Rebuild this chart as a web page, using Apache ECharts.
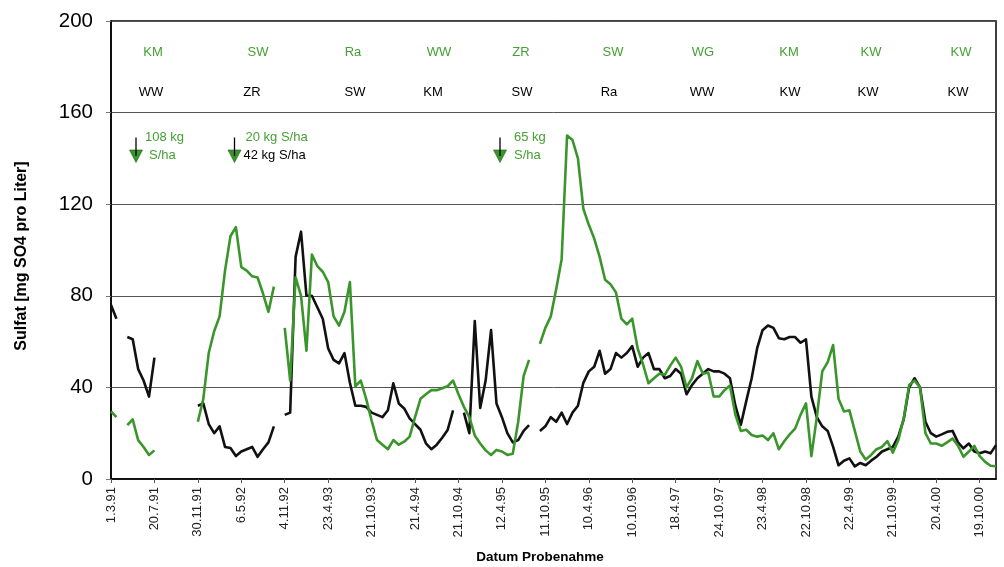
<!DOCTYPE html>
<html>
<head>
<meta charset="utf-8">
<script src="https://cdn.jsdelivr.net/npm/echarts@6/dist/echarts.min.js"></script>
<style>
  html, body { margin: 0; padding: 0; background: #fff; }
  #chart { width: 1004px; height: 567px; }
</style>
</head>
<body>
<div id="chart"></div>
<script>
// Sampling dates shown on the axis (every 8th sample)
const dateLabels = ['1.3.91','20.7.91','30.11.91','6.5.92','4.11.92','23.4.93','21.10.93','21.4.94',
  '21.10.94','12.4.95','11.10.95','10.4.96','10.10.96','18.4.97','24.10.97','23.4.98','22.10.98',
  '22.4.99','21.10.99','20.4.00','19.10.00'];
const samplesPerLabel = 8;

// Sulfate concentration, black series (mg SO4 / l); null = no sample
const sulfatBlack = [
  76, 70, null, 62, 61, 48, 43, 36, 53,
  null, null, null, null, null, null, null,
  32, 33, 24, 20, 23, 14, 13.5, 10,
  12, 13, 14, 9.7, 13, 16, 23, null,
  28, 29, 97, 108, 80, 80, 75, 70,
  57, 52, 50.5, 55, 42, 32, 32, 31.5,
  29, 28, 27, 30, 41.8, 33, 30.8, 26.5,
  24, 21.5, 15.6, 13, 15, 18, 21.4, 30,
  null, 29, 20, 69, 31, 43, 65, 33,
  27, 20, 16, 17, 21, 23.5, null, 21,
  23, 27, 25, 29, 24, 29, 32, 42,
  47, 49, 56, 46, 48, 55, 53, 55,
  58, 49, 53, 55, 48, 48, 44, 45,
  48, 46, 37, 41, 44, 46, 48, 47,
  47, 46, 44, 32, 23.6, 34, 44, 57,
  65, 67, 66, 61.5, 61, 62, 62, 59.5,
  61, 36, 27, 23, 21, 14, 6, 8,
  9, 5.5, 7, 6, 8, 9.7, 12, 13,
  14, 18.5, 26, 40, 44, 40, 25, 20,
  18.5, 19.5, 20.6, 21, 16, 13.4, 15.5, 12,
  11.2, 12, 11.2, 14.8
];

// Sulfate concentration, green series (mg SO4 / l)
const sulfatGreen = [
  29.5, 27, null, 23.5, 26, 17, 14, 10.5, 12.5,
  null, null, null, null, null, null, null,
  25, 35, 55, 64.5, 71, 91, 106, 110,
  92.5, 91, 88.5, 88, 81, 73, 84, null,
  66, 43, 88, 80, 56, 98, 93, 90.5,
  86, 71, 67, 73, 86, 40.5, 43, 35,
  25.5, 17, 15, 13, 17, 15, 16.3, 18.5,
  27, 35, 37, 38.8, 38.8, 39.6, 40.5, 43,
  37, 31.5, 27, 19, 15.5, 12.5, 10.5, 12.7,
  12, 10.5, 11, 25, 45, 52, null, 59,
  66, 71, 83, 96, 150, 148, 140, 118,
  111, 105, 97, 87, 85, 81.5, 70, 67.5,
  70, 57, 50, 41.8, 44, 46, 45.5, 49.5,
  53, 49, 40, 44, 51.5, 46, 46.5, 36,
  36, 38.8, 40.8, 28, 21, 21.5, 19.2, 18.5,
  19, 17, 20, 13, 16.5, 19.5, 22, 28,
  33, 10, 27, 47, 51, 58.5, 35, 29.5,
  30, 21, 12, 8.5, 10.5, 13, 14, 16.5,
  11.5, 17, 26.5, 41, 43, 40, 20, 15.5,
  15.5, 14.5, 16, 17.7, 14.5, 9.7, 12, 14.5,
  10, 7.5, 5.8, 5.6
];

// Crop rotation per season (upper row green, lower row black)
const cropsGreen = ['KM','SW','Ra','WW','ZR','SW','WG','KM','KW','KW'];
const cropsBlack = ['WW','ZR','SW','KM','SW','Ra','WW','KW','KW','KW'];

// Sulfur fertilisation notes
const fertNotes = [
  { lines: [['108 kg', 'g'], ['S/ha', 'g']] },
  { lines: [['20 kg S/ha', 'g'], ['42 kg S/ha', 'k']] },
  { lines: [['65 kg', 'g'], ['S/ha', 'g']] }
];

const GREEN = '#3a962b';
const TEXT_GREEN = '#44a034';
const FONT = '"Liberation Sans", Arial, Helvetica, sans-serif';

const categories = sulfatBlack.map((_, i) =>
  i % samplesPerLabel === 0 ? dateLabels[i / samplesPerLabel] : 'P' + (i + 1));

// Text layout for the annotation rows
const greenRowX = [153, 258, 353, 439, 521, 613, 703, 789, 871, 961];
const blackRowX = [151, 252, 355, 433, 522, 609, 702, 790, 868, 958];
const fertPos = [
  { arrowX: 136, textX: [145, 149] },
  { arrowX: 234.5, textX: [245.5, 243.5] },
  { arrowX: 500, textX: [514, 514] }
];

const graphics = [];
cropsGreen.forEach((t, i) => graphics.push({
  type: 'text', x: greenRowX[i], y: 52, silent: true,
  style: { text: t, fill: TEXT_GREEN, font: '13px ' + FONT, textAlign: 'center', textVerticalAlign: 'middle' }
}));
cropsBlack.forEach((t, i) => graphics.push({
  type: 'text', x: blackRowX[i], y: 92, silent: true,
  style: { text: t, fill: '#000', font: '13px ' + FONT, textAlign: 'center', textVerticalAlign: 'middle' }
}));
fertNotes.forEach((n, k) => {
  const p = fertPos[k];
  graphics.push({
    type: 'polygon', silent: true,
    shape: { points: [[p.arrowX - 6.5, 150], [p.arrowX + 6.5, 150], [p.arrowX, 162.5]] },
    style: { fill: GREEN, stroke: '#1f5a16', lineWidth: 0.6 }
  });
  graphics.push({
    type: 'line', silent: true,
    shape: { x1: p.arrowX, y1: 137.5, x2: p.arrowX, y2: 156 },
    style: { stroke: '#000', lineWidth: 1.3 }
  });
  n.lines.forEach((ln, j) => graphics.push({
    type: 'text', x: p.textX[j], y: 137 + j * 18, silent: true,
    style: { text: ln[0], fill: ln[1] === 'g' ? TEXT_GREEN : '#000', font: '13px ' + FONT,
      textAlign: 'left', textVerticalAlign: 'middle' }
  }));
});
// axis titles
graphics.push({
  type: 'text', x: 22, y: 256, rotation: Math.PI / 2, silent: true,
  style: { text: 'Sulfat [mg SO4 pro Liter]', fill: '#000', font: 'bold 16px ' + FONT,
    textAlign: 'center', textVerticalAlign: 'middle' }
});
graphics.push({
  type: 'text', x: 540, y: 557, silent: true,
  style: { text: 'Datum Probenahme', fill: '#000', font: 'bold 13.5px ' + FONT,
    textAlign: 'center', textVerticalAlign: 'middle' }
});

const chart = echarts.init(document.getElementById('chart'), null, { renderer: 'canvas' });
chart.setOption({
  animation: false,
  backgroundColor: '#fff',
  grid: {
    left: 111, right: 8, top: 21, bottom: 88,
    show: true, borderColor: '#000', borderWidth: 1.5, backgroundColor: 'transparent'
  },
  xAxis: {
    type: 'category',
    data: categories,
    boundaryGap: false,
    axisLine: { show: true, lineStyle: { color: '#000', width: 1.5 } },
    axisTick: { show: true, interval: samplesPerLabel - 1, length: 4, lineStyle: { color: '#555' } },
    axisLabel: {
      interval: samplesPerLabel - 1, rotate: 90, margin: 8,
      fontSize: 13, fontFamily: FONT, color: '#222'
    },
    splitLine: { show: false }
  },
  yAxis: {
    type: 'value', min: 0, max: 200, interval: 40,
    axisLine: { show: true, lineStyle: { color: '#000', width: 1.5 } },
    axisTick: { show: true, length: 5, lineStyle: { color: '#777' } },
    axisLabel: { fontSize: 20.5, fontFamily: FONT, color: '#000', margin: 18 },
    splitLine: { show: true, lineStyle: { color: '#555', width: 1 } }
  },
  series: [
    {
      type: 'line', data: sulfatBlack, showSymbol: false, connectNulls: false,
      lineStyle: { color: '#111', width: 2.6, join: 'round' }, z: 3
    },
    {
      type: 'line', data: sulfatGreen, showSymbol: false, connectNulls: false,
      lineStyle: { color: GREEN, width: 2.6, join: 'round' }, z: 4
    }
  ],
  graphic: graphics
});
</script>
</body>
</html>
